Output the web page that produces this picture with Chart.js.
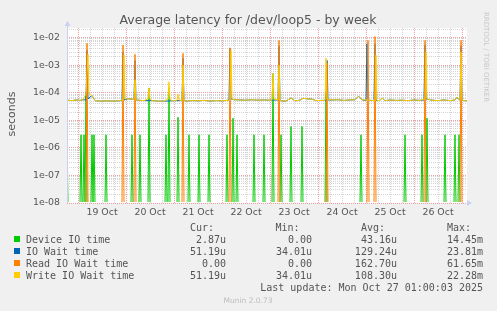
<!DOCTYPE html>
<html>
<head>
<meta charset="utf-8">
<title>Average latency for /dev/loop5 - by week</title>
<script src="https://cdn.jsdelivr.net/npm/chart.js@4.4.0/dist/chart.umd.min.js"></script>
<style>
  html, body { margin: 0; padding: 0; background: #f0f0f0; }
  canvas { display: block; }
</style>
</head>
<body>
<canvas id="latency" width="497" height="311"></canvas>
<script>
// x values are hours since 19 Oct 00:00 (graph runs 18 Oct 18:30 .. 27 Oct 02:30)
const dayLabels = ['19 Oct', '20 Oct', '21 Oct', '22 Oct', '23 Oct', '24 Oct', '25 Oct', '26 Oct'];
const yTickLabels = ['1e-08', '1e-07', '1e-06', '1e-05', '1e-04', '1e-03', '1e-02'];

const seriesNames = ['Device IO time', 'IO Wait time', 'Read IO Wait time', 'Write IO Wait time'];
const curValues = ['2.87u', '51.19u', '0.00', '51.19u'];
const minValues = ['0.00', '34.01u', '0.00', '34.01u'];
const avgValues = ['43.16u', '129.24u', '162.70u', '108.30u'];
const maxValues = ['14.45m', '23.81m', '61.65m', '22.28m'];
const lastUpdate = 'Last update: Mon Oct 27 01:00:03 2025';

// Device IO time: mostly zero with short spikes
const deviceIO = [
  [-5.5, 3e-6], [-5, 0], [1, 0], [1.5, 3e-6], [2, 0], [2.5, 0], [3, 3e-6], [3.5, 0], [4, 1e-4], [4.5, 0],
  [6.5, 0], [7, 3e-6], [7.5, 0], [8, 3e-6], [8.5, 0], [13.5, 0], [14, 3e-6], [14.5, 0],
  [26.5, 0], [27, 3e-6], [27.5, 0], [30.5, 0], [31, 3e-6], [31.5, 0], [35, 0], [35.5, 1.5e-4], [36, 0],
  [43.5, 0], [44, 3e-6], [44.5, 0], [45, 0], [45.5, 1.5e-4], [46, 0], [49.5, 0], [50, 1.3e-5], [50.5, 0],
  [55, 0], [55.5, 3e-6], [56, 0], [60, 0], [60.5, 3e-6], [61, 0], [65, 0], [65.5, 3e-6], [66, 0],
  [74, 0], [74.5, 3e-6], [75, 0], [77, 0], [77.5, 1.2e-5], [78, 0], [79, 0], [79.5, 3e-6], [80, 0],
  [87.5, 0], [88, 3e-6], [88.5, 0], [92.5, 0], [93, 3e-6], [93.5, 0], [97, 0], [97.5, 5e-4], [98, 0],
  [101, 0], [101.5, 3e-6], [102, 0], [106, 0], [106.5, 6e-6], [107, 0], [111.5, 0], [112, 6e-6], [112.5, 0],
  [123.5, 0], [124, 1e-4], [124.5, 0], [141, 0], [141.5, 3e-6], [142, 0], [163, 0], [163.5, 3e-6], [164, 0],
  [171.5, 0], [172, 3e-6], [172.5, 0], [174, 0], [174.5, 1.2e-5], [175, 0], [183, 0], [183.5, 3e-6], [184, 0],
  [188, 0], [188.5, 3e-6], [189, 0], [190, 0], [190.5, 3e-6], [191, 0], [194.5, 0]
];

// common level of IO Wait and Write IO Wait between the spikes
const waitBaseline = [
  [-5.5, 5.4e-5], [-3, 5.2e-5], [-1, 5.5e-5], [1, 5.3e-5], [2.5, 5.6e-5], [7, 8e-5], [8.5, 5.2e-5],
  [11, 5e-5], [14, 5.1e-5], [17, 5e-5], [20, 5.1e-5], [25, 6e-5], [27, 5.9e-5], [30, 5.4e-5], [33, 5.2e-5],
  [37, 5.2e-5], [40, 5e-5], [43, 5e-5], [47, 5.1e-5], [49, 5.2e-5], [54, 5e-5], [57, 5.2e-5], [60, 5.1e-5],
  [63, 5.3e-5], [66, 5e-5], [69, 5.2e-5], [72, 5.1e-5], [74.5, 5.3e-5], [78, 5.6e-5], [81, 5.5e-5],
  [84, 5.4e-5], [87, 5.6e-5], [90, 5.4e-5], [93, 5.5e-5], [96, 5.4e-5], [102, 5.1e-5], [104, 5e-5],
  [106.5, 6.5e-5], [108.5, 5.1e-5], [111, 5.4e-5], [112.5, 6.3e-5], [115, 6e-5], [117, 5.9e-5], [119, 5.2e-5],
  [122, 5.3e-5], [127, 5.5e-5], [130, 5.6e-5], [133, 5.3e-5], [136, 5.5e-5], [138.5, 5.6e-5], [140.3, 7.6e-5],
  [142, 5.6e-5], [151, 5.3e-5], [152, 6.5e-5], [153.5, 5.2e-5], [156, 5.5e-5], [159, 5.3e-5], [162, 5.4e-5],
  [165, 5.2e-5], [168, 5.5e-5], [171, 5.3e-5], [177, 5.4e-5], [180, 5.2e-5], [183, 5.5e-5], [186, 5.2e-5],
  [188.5, 5.5e-5], [189.5, 7e-5], [190.5, 5.6e-5], [193, 5.2e-5], [194.5, 5.119e-5]
];

const ioWaitSpikes = [
  [4, 5.5e-5], [4.5, 3.5e-3], [5, 6e-5], [22, 5.2e-5], [22.5, 3e-3], [23, 5.5e-5],
  [28, 6e-5], [28.5, 1.5e-3], [29, 5.5e-5], [52, 5.2e-5], [52.5, 1.8e-3], [53, 5.2e-5],
  [75.5, 5.5e-5], [76, 4e-3], [76.5, 6e-5], [100, 5.5e-5], [100.5, 5e-3], [101, 5.2e-5],
  [124, 5.3e-5], [124.5, 1.5e-3], [125, 5.5e-5], [144, 5.2e-5], [144.5, 6e-3], [145, 5.4e-5],
  [148, 5.2e-5], [148.5, 6e-3], [149, 5.2e-5], [173, 5.5e-5], [173.5, 5.5e-3], [174, 6e-5],
  [191, 5.5e-5], [191.5, 5e-3], [192, 5.5e-5]
];

const readIO = [
  [-5.5, 0], [4, 0], [4.5, 6.3e-3], [5, 0], [22, 0], [22.5, 5.4e-3], [23, 0], [28, 0], [28.5, 2.5e-3], [29, 0],
  [52, 0], [52.5, 2.7e-3], [53, 0], [75.5, 0], [76, 4.3e-3], [76.5, 0], [100, 0], [100.5, 8e-3], [101, 0],
  [124, 0], [124.5, 1.2e-3], [125, 0], [144.5, 0], [145, 8e-3], [145.5, 0], [148, 0], [148.5, 1.1e-2], [149, 0],
  [173, 0], [173.5, 8e-3], [174, 0], [191, 0], [191.5, 8e-3], [192, 0], [194.5, 0]
];

const writeSpikes = [
  [4, 9e-5], [5, 2.5e-3], [5.5, 1e-4], [6.5, 8e-5], [22.5, 5.5e-5], [23, 2.4e-3], [23.5, 6e-5],
  [28, 6e-5], [28.5, 3e-4], [29, 5.5e-5], [35, 6e-5], [35.5, 1.5e-4], [36, 6e-5],
  [45, 6e-5], [45.5, 2.5e-4], [46, 6e-5], [49.5, 5.5e-5], [50, 9e-5], [50.5, 5.5e-5],
  [52, 5.2e-5], [52.5, 1e-3], [53, 5.2e-5], [76, 5.5e-5], [76.5, 3.5e-3], [77, 6e-5],
  [97, 5.4e-5], [97.5, 5e-4], [98, 6e-5], [100, 5.5e-5], [100.5, 1e-3], [101, 5.2e-5],
  [123.5, 5.3e-5], [124, 1.8e-3], [124.5, 6e-5], [148.5, 5.2e-5], [149, 2.3e-3], [149.5, 5.2e-5],
  [173.5, 6e-5], [174, 3e-3], [174.5, 6e-5], [191, 5.5e-5], [191.5, 3e-3], [192, 5.5e-5]
];

const xMin = -5.5, xMax = 194.5;
const yMin = 1e-8, yMax = 0.0225;

// a log axis cannot show 0; like rrdtool, put zero samples on the floor of the graph
function toPoints(list) {
  return list.map(p => ({ x: p[0], y: p[1] > 0 ? p[1] : yMin }));
}

// put the spike points into the baseline, dropping baseline points that sit inside a spike
function withSpikes(base, spikes) {
  const kept = base.filter(p => !spikes.some(s => Math.abs(s[0] - p[0]) < 0.5));
  return toPoints(kept.concat(spikes).sort((a, b) => a[0] - b[0]));
}

const colors = ['#00cc00', '#0066b3', '#ff8000', '#ffcc00'];
const minorGrid = '#d4d4d4';
const majorGrid = '#f0a0a0';

const muninDecor = {
  id: 'muninDecor',
  beforeDraw(chart) {
    const { ctx, chartArea: a } = chart;
    ctx.save();
    ctx.fillStyle = '#ffffff';
    ctx.fillRect(a.left, a.top, a.right - a.left, a.bottom - a.top);
    ctx.restore();
  },
  afterDraw(chart) {
    const { ctx, chartArea: a } = chart;
    ctx.save();

    // axis line and arrows
    ctx.strokeStyle = '#c8d0f4';
    ctx.fillStyle = '#c8d0f4';
    ctx.lineWidth = 1;
    ctx.beginPath();
    ctx.moveTo(a.left + 0.5, a.bottom);
    ctx.lineTo(a.left + 0.5, a.top - 3);
    ctx.stroke();
    ctx.beginPath();
    ctx.moveTo(a.left - 2.5, a.top - 2);
    ctx.lineTo(a.left + 3.5, a.top - 2);
    ctx.lineTo(a.left + 0.5, a.top - 7);
    ctx.fill();
    ctx.beginPath();
    ctx.moveTo(a.right, a.bottom - 3);
    ctx.lineTo(a.right, a.bottom + 3);
    ctx.lineTo(a.right + 5, a.bottom);
    ctx.fill();

    // title
    ctx.fillStyle = '#555555';
    ctx.font = '12.5px "DejaVu Sans"';
    ctx.textAlign = 'center';
    ctx.textBaseline = 'alphabetic';
    ctx.fillText('Average latency for /dev/loop5 - by week', 248, 24);

    // y axis title
    ctx.save();
    ctx.translate(15, 114);
    ctx.rotate(-Math.PI / 2);
    ctx.font = '11px "DejaVu Sans"';
    ctx.fillText('seconds', 0, 0);
    ctx.restore();

    // side credit
    ctx.save();
    ctx.translate(484, 57);
    ctx.rotate(Math.PI / 2);
    ctx.fillStyle = '#c8c8c8';
    ctx.font = '7px "DejaVu Sans"';
    ctx.fillText('RRDTOOL / TOBI OETIKER', 0, 0);
    ctx.restore();

    // legend table
    ctx.font = '10px "DejaVu Sans Mono"';
    ctx.fillStyle = '#555555';
    ctx.textAlign = 'left';
    ctx.fillText('Cur:', 190, 231);
    ctx.fillText('Min:', 275.5, 231);
    ctx.fillText('Avg:', 361, 231);
    ctx.fillText('Max:', 447, 231);
    seriesNames.forEach((name, i) => {
      const y = 243 + i * 12;
      ctx.fillStyle = colors[i];
      ctx.fillRect(14, y - 7, 6, 6);
      ctx.fillStyle = '#555555';
      ctx.textAlign = 'left';
      ctx.fillText(name, 26, y);
      ctx.textAlign = 'right';
      ctx.fillText(curValues[i], 226, y);
      ctx.fillText(minValues[i], 312, y);
      ctx.fillText(avgValues[i], 397, y);
      ctx.fillText(maxValues[i], 483, y);
    });
    ctx.textAlign = 'right';
    ctx.fillText(lastUpdate, 483, 291);

    ctx.textAlign = 'center';
    ctx.fillStyle = '#bdbdbd';
    ctx.font = '7.5px "DejaVu Sans"';
    ctx.fillText('Munin 2.0.73', 248, 302.5);
    ctx.restore();
  }
};

function lineSet(label, data, color, order) {
  return {
    label: label,
    data: data,
    borderColor: color,
    backgroundColor: color,
    borderWidth: 1,
    pointRadius: 0,
    tension: 0,
    fill: false,
    order: order,
    clip: { left: 0, top: 0, right: 0, bottom: -1 }
  };
}

new Chart(document.getElementById('latency'), {
  type: 'line',
  data: {
    datasets: [
      lineSet(seriesNames[0], toPoints(deviceIO), colors[0], 4),
      lineSet(seriesNames[1], withSpikes(waitBaseline, ioWaitSpikes), colors[1], 3),
      lineSet(seriesNames[2], toPoints(readIO), colors[2], 2),
      lineSet(seriesNames[3], withSpikes(waitBaseline, writeSpikes), colors[3], 1)
    ]
  },
  options: {
    responsive: false,
    animation: false,
    devicePixelRatio: 1,
    layout: { padding: { top: 28, right: 30, bottom: 88, left: 0 } },
    plugins: {
      legend: { display: false },
      title: { display: false },
      tooltip: { enabled: false }
    },
    scales: {
      x: {
        type: 'linear',
        min: xMin,
        max: xMax,
        afterFit: s => { s.height = 20; },
        afterBuildTicks: s => {
          const ticks = [];
          for (let h = 0; h <= xMax; h += 6) ticks.push({ value: h });
          s.ticks = ticks;
        },
        ticks: {
          autoSkip: false,
          maxRotation: 0,
          padding: 4,
          color: '#555555',
          font: { family: 'DejaVu Sans', size: 9.4 },
          callback: v => (v % 24 === 12 ? dayLabels[(v - 12) / 24] : '')
        },
        grid: {
          drawTicks: false,
          lineWidth: 1,
          color: c => (c.tick && c.tick.value % 24 === 0 ? majorGrid : minorGrid)
        },
        border: { display: false, dash: [1, 1] }
      },
      y: {
        type: 'logarithmic',
        min: yMin,
        max: yMax,
        afterFit: s => { s.width = 67; },
        afterBuildTicks: s => {
          const ticks = [];
          yTickLabels.forEach((lab, i) => {
            for (let m = 1; m <= 9; m++) {
              const v = m * Math.pow(10, i - 8);
              if (v <= yMax) ticks.push({ value: v, text: m === 1 ? lab : '' });
            }
          });
          s.ticks = ticks;
        },
        ticks: {
          autoSkip: false,
          padding: 7,
          color: '#555555',
          font: { family: 'DejaVu Sans', size: 9.4 },
          callback: (v, i, ticks) => ticks[i].text
        },
        grid: {
          drawTicks: false,
          lineWidth: 1,
          color: c => (c.tick && c.tick.text ? majorGrid : minorGrid)
        },
        border: { display: false, dash: [1, 1] }
      }
    }
  },
  plugins: [muninDecor]
});
</script>
</body>
</html>
